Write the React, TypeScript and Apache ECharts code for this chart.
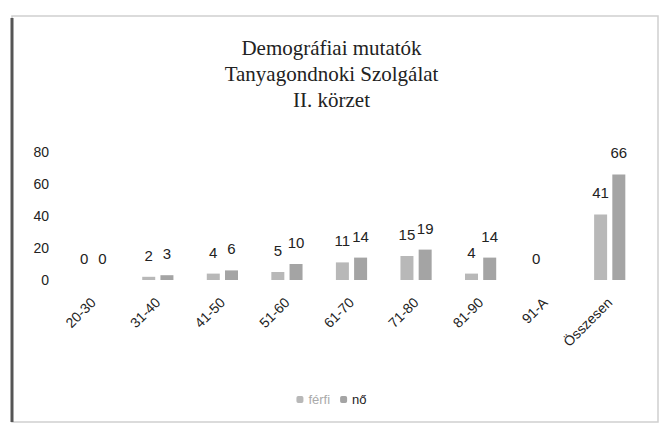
import React, { useEffect, useRef } from "react";
import * as echarts from "echarts";

const titleLines = ["Demográfiai mutatók", "Tanyagondnoki Szolgálat", "II. körzet"];
const categories = ["20-30", "31-40", "41-50", "51-60", "61-70", "71-80", "81-90", "91-A", "Összesen"];
const ferfi: (number | null)[] = [0, 2, 4, 5, 11, 15, 4, 0, 41];
const no: (number | null)[] = [0, 3, 6, 10, 14, 19, 14, null, 66];
const yTicks = [0, 20, 40, 60, 80];

export default function App() {
  const ref = useRef<HTMLDivElement>(null);
  useEffect(() => {
    document.body.style.margin = "0";
    const chart = echarts.init(ref.current!, null, { renderer: "svg" });
    chart.setOption({
      animation: false,
      backgroundColor: "#ffffff",
      title: {
        text: titleLines.join("\n"),
        left: "center",
        top: 30,
        textStyle: {
          fontFamily: "Liberation Serif",
          fontSize: 21,
          fontWeight: "normal",
          color: "#222",
          lineHeight: 26,
        },
      },
      graphic: [
        {
          type: "rect",
          shape: { x: 12, y: 16, width: 646, height: 406 },
          style: { fill: "none", stroke: "#d0d0d0", lineWidth: 1.5 },
        },
        {
          type: "line",
          shape: { x1: 12, y1: 18, x2: 12, y2: 422 },
          style: { stroke: "#555", lineWidth: 3 },
        },
      ],
      legend: {
        bottom: 14,
        left: "center",
        itemWidth: 7,
        itemHeight: 7,
        itemGap: 10,
        textStyle: { fontFamily: "Liberation Sans", fontSize: 13, color: "#333" },
        data: [
          { name: "férfi", textStyle: { color: "#aaa" } },
          { name: "nő", textStyle: { color: "#222" } },
        ],
      },
      grid: { left: 61, right: 21, top: 152, bottom: 145 },
      xAxis: {
        type: "category",
        data: categories,
        axisLine: { show: false },
        axisTick: { show: false },
        axisLabel: {
          rotate: 45,
          interval: 0,
          margin: 20,
          fontFamily: "Liberation Sans",
          fontSize: 14,
          color: "#222",
        },
      },
      yAxis: {
        type: "value",
        min: 0,
        max: yTicks[yTicks.length - 1],
        interval: 20,
        splitLine: { show: false },
        axisLine: { show: false },
        axisTick: { show: false },
        axisLabel: {
          margin: 12,
          fontFamily: "Liberation Sans",
          fontSize: 14,
          color: "#222",
        },
      },
      series: [
        {
          name: "férfi",
          type: "bar",
          data: ferfi,
          barWidth: 13,
          barGap: "40%",
          itemStyle: { color: "#b8b8b8" },
          label: {
            show: true,
            position: "top",
            distance: 14,
            fontFamily: "Liberation Sans",
            fontSize: 15,
            color: "#222",
          },
        },
        {
          name: "nő",
          type: "bar",
          data: no,
          barWidth: 13,
          barGap: "40%",
          itemStyle: { color: "#a4a4a4" },
          label: {
            show: true,
            position: "top",
            distance: 14,
            fontFamily: "Liberation Sans",
            fontSize: 15,
            color: "#222",
          },
        },
      ],
    });
    return () => chart.dispose();
  }, []);
  return <div ref={ref} style={{ width: 663, height: 425 }} />;
}
